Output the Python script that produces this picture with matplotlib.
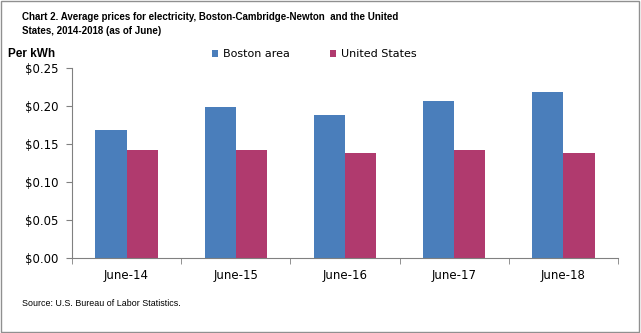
import numpy as np
import matplotlib
matplotlib.use("Agg")
import matplotlib.pyplot as plt
from matplotlib.patches import Rectangle
from matplotlib.ticker import FuncFormatter
from matplotlib import font_manager

months = ["June-14", "June-15", "June-16", "June-17", "June-18"]
boston = [0.168, 0.199, 0.188, 0.207, 0.218]
us = [0.142, 0.142, 0.138, 0.142, 0.138]

blue = "#4A7EBB"
plum = "#B03A6E"

# narrow face for the headings, if one is present
names = {f.name for f in font_manager.fontManager.ttflist}
narrow = [n for n in ["Liberation Sans Narrow", "DejaVu Sans Condensed"] if n in names]
narrow = narrow + ["Liberation Sans", "DejaVu Sans"]

fig = plt.figure(figsize=(6.41, 3.33), dpi=100)
fig.patches.append(Rectangle((0.002, 0.003), 0.995, 0.994, transform=fig.transFigure,
                             fill=False, edgecolor="#909090", linewidth=1))

ax = fig.add_axes([72 / 641, 75 / 333, 546 / 641, 190 / 333])
x = np.arange(len(months))
w = 0.285
ax.bar(x - w / 2, boston, w, color=blue, label="Boston area")
ax.bar(x + w / 2, us, w, color=plum, label="United States")

ax.set_xlim(-0.5, len(months) - 0.5)
ax.set_ylim(0, 0.25)
ax.set_yticks(np.arange(0, 0.251, 0.05))
ax.yaxis.set_major_formatter(FuncFormatter(lambda v, p: "${:.2f}".format(v)))
ax.set_xticks(x)
ax.set_xticklabels(months)
ax.set_xticks(np.arange(-0.5, len(months)), minor=True)
ax.tick_params(axis="x", which="major", length=0, pad=8, labelsize=8.5)
ax.tick_params(axis="x", which="minor", length=4, color="#808080")
ax.tick_params(axis="y", length=4, color="#808080", labelsize=8.5, pad=6)
for s in ["top", "right"]:
    ax.spines[s].set_visible(False)
for s in ["left", "bottom"]:
    ax.spines[s].set_color("#808080")

fig.text(22 / 641, 1 - 24 / 333,
         "Chart 2. Average prices for electricity, Boston-Cambridge-Newton  and the United\nStates, 2014-2018 (as of June)",
         fontsize=7.0, fontweight="bold", family=narrow,
         va="center", ha="left", linespacing=1.4)
fig.text(8 / 641, 1 - 54 / 333, "Per kWh", fontsize=8.5, fontweight="bold",
         family=narrow, va="center")
fig.legend(loc="center", bbox_to_anchor=(314 / 641, 1 - 54 / 333), ncol=2, frameon=False,
           fontsize=8, handlelength=0.6, handleheight=0.6, handletextpad=0.4, columnspacing=3.6)
fig.text(22 / 641, 1 - 304 / 333, "Source: U.S. Bureau of Labor Statistics.", fontsize=6.4,
         family=narrow, va="center")

fig.savefig("out.png", dpi=100)
